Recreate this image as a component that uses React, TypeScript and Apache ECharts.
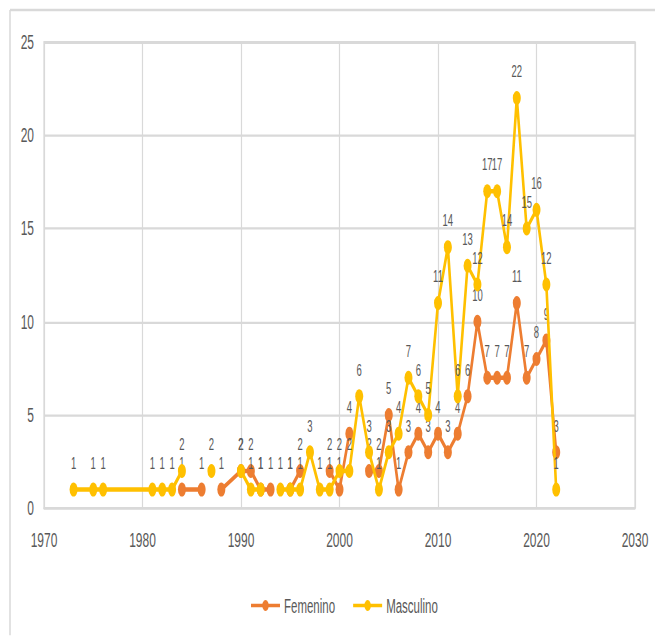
import React, { useEffect, useRef } from "react";
import * as echarts from "echarts";

const years = [
  1973, 1975, 1976, 1981, 1982, 1983, 1984, 1986, 1987, 1988, 1990, 1991, 1992, 1993, 1994, 1995, 1996, 1997, 1998, 1999,
  2000, 2001, 2002, 2003, 2004, 2005, 2006, 2007, 2008, 2009, 2010, 2011, 2012, 2013, 2014, 2015, 2016, 2017, 2018, 2019,
  2020, 2021, 2022,
];
const femenino: (number | null)[] = [
  null, null, null, null, null, null, 1, 1, null, 1, 2, 2, 1, 1, null, 1, 2, null, null, 2,
  1, 4, null, 2, 2, 5, 1, 3, 4, 3, 4, 3, 4, 6, 10, 7, 7, 7, 11, 7,
  8, 9, 3,
];
const masculino: (number | null)[] = [
  1, 1, 1, 1, 1, 1, 2, null, 2, null, 2, 1, 1, null, 1, 1, 1, 3, 1, 1,
  2, 2, 6, 3, 1, 3, 4, 7, 6, 5, 11, 14, 6, 13, 12, 17, 17, 14, 22, 15,
  16, 12, 1,
];
const seriesNames = ["Femenino", "Masculino"];
const seriesColors = ["#ED7D31", "#FFC000"];

const S = 1.75;
const W = 655;
const H = 636 / S;
const FONT = "Liberation Sans, Arial, sans-serif";
const GREY = "#595959";

export default function App() {
  const ref = useRef<HTMLDivElement>(null);
  useEffect(() => {
    if (!ref.current) return;
    const chart = echarts.init(ref.current, undefined, { renderer: "svg" });
    const mk = (vals: (number | null)[]) => years.map((y, i) => [y, vals[i] == null ? "-" : vals[i]]);
    const datasets = [femenino, masculino];
    chart.setOption({
      animation: false,
      graphic: [
        {
          type: "line",
          z: -10,
          shape: { x1: 10, y1: 10 / S, x2: W, y2: 10 / S },
          style: { stroke: "#d9d9d9", lineWidth: 1.5 },
        },
        {
          type: "line",
          z: -10,
          shape: { x1: 10, y1: 10 / S, x2: 10, y2: H },
          style: { stroke: "#d9d9d9", lineWidth: 1.5 },
        },
      ],
      grid: {
        left: 44,
        right: W - 635,
        top: 42 / S,
        bottom: H - 509 / S,
        show: true,
        borderColor: "#d9d9d9",
        borderWidth: 1.2,
        containLabel: false,
      },
      legend: {
        left: 245,
        top: 335,
        itemWidth: 29,
        itemHeight: 8,
        itemGap: 17,
        textStyle: { fontFamily: FONT, fontSize: 11.5, color: GREY, padding: [0, 0, 0, -1] },
        data: seriesNames,
      },
      xAxis: {
        type: "value",
        min: 1970,
        max: 2030,
        interval: 10,
        axisLine: { show: true, lineStyle: { color: "#d9d9d9", width: 1.2 } },
        axisTick: { show: false },
        axisLabel: { fontFamily: FONT, fontSize: 12, color: GREY, margin: 12, formatter: (v: number) => String(v) },
        splitLine: { show: true, lineStyle: { color: "#d9d9d9", width: 1.2 } },
      },
      yAxis: {
        type: "value",
        min: 0,
        max: 25,
        interval: 5,
        axisLine: { show: false },
        axisTick: { show: false },
        axisLabel: { fontFamily: FONT, fontSize: 12, color: GREY, margin: 10 },
        splitLine: { show: true, lineStyle: { color: "#d9d9d9", width: 1.2 } },
      },
      series: seriesNames.map((name, k) => ({
        name,
        type: "line",
        data: mk(datasets[k]),
        connectNulls: false,
        symbol: "circle",
        symbolSize: 8,
        color: seriesColors[k],
        lineStyle: { width: 2.6, color: seriesColors[k] },
        itemStyle: { color: seriesColors[k] },
        z: 2 + k,
        label: {
          show: true,
          position: "top",
          distance: 6,
          fontFamily: FONT,
          fontSize: 9.5,
          color: GREY,
        },
      })),
    });
    return () => chart.dispose();
  }, []);
  return (
    <div style={{ position: "fixed", left: 0, top: 0, width: W, height: 636, overflow: "hidden", background: "#fff" }}>
      <div
        ref={ref}
        style={{ width: W, height: H, transform: `scaleY(${S})`, transformOrigin: "0 0" }}
      />
    </div>
  );
}
